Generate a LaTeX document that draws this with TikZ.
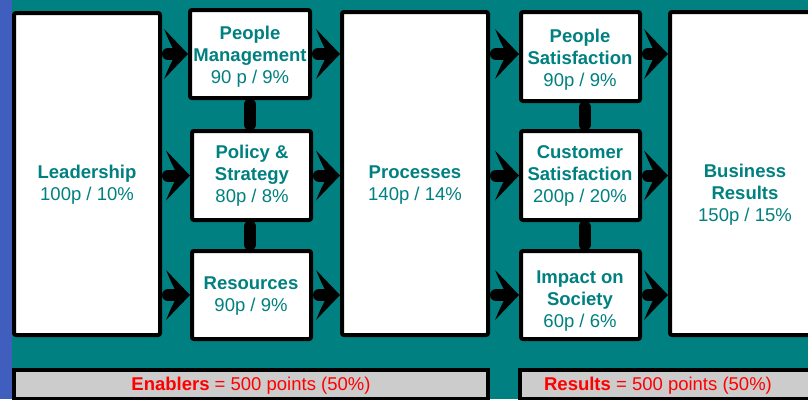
\documentclass[tikz,border=0pt]{standalone}
\usepackage{fontspec}
\setmainfont{Liberation Sans}
\usetikzlibrary{calc}
\definecolor{bgteal}{RGB}{0,128,128}
\definecolor{sideblue}{RGB}{63,94,189}
\definecolor{labelteal}{RGB}{0,128,128}
\definecolor{bargrey}{RGB}{204,204,204}

\begin{document}
\begin{tikzpicture}[x=1pt,y=-1pt,
  box/.style={draw=black, fill=white, line width=4pt, rounded corners=2pt, inner sep=0pt},
  bar/.style={draw=black, fill=bargrey, line width=4pt, inner sep=0pt},
  title/.style={font=\fontsize{18.5}{22}\selectfont, text=labelteal, align=center, inner sep=0pt},
  total/.style={font=\fontsize{18.5}{22}\selectfont, text=red, inner sep=0pt},
  % thick shaft; the chevron head is added as a pic at the end point
  flow/.style={line width=12pt, line cap=round, shorten <=6pt, shorten >=14pt},
  chevron/.pic={\fill[black] (0,0) -- (-24,-25) .. controls (-18,-11) .. (-12,0)
      .. controls (-18,11) .. (-24,25) -- cycle;},
  link/.style={line width=12pt, line cap=round, shorten <=4.5pt, shorten >=4.5pt}]

\useasboundingbox (0,0) rectangle (808,399);
\clip (0,0) rectangle (808,399);

% backdrop
\fill[bgteal] (0,0) rectangle (808,399);
\fill[sideblue] (0,0) rectangle (11.5,399);

% enablers
\node[box, minimum width=146pt, minimum height=322pt] (lead) at (87,174) {};
\node[box, minimum width=120pt, minimum height=88pt] (pm) at (250,54) {};
\node[box, minimum width=119pt, minimum height=89pt] (pol) at (251.5,175.5) {};
\node[box, minimum width=119pt, minimum height=88pt] (res) at (251.5,295) {};
\node[box, minimum width=146pt, minimum height=323pt] (proc) at (415,173.5) {};

% results
\node[box, minimum width=119pt, minimum height=89pt] (ps) at (580.5,56.5) {};
\node[box, minimum width=119pt, minimum height=89pt] (cs) at (580.5,175.5) {};
\node[box, minimum width=119pt, minimum height=88pt] (imp) at (580.5,295) {};
\node[box, minimum width=150pt, minimum height=323pt] (biz) at (745,173.5) {};

% summary bars
\node[bar, minimum width=474pt, minimum height=29pt] (en) at (251,384.5) {};
\node[bar, minimum width=310pt, minimum height=29pt] (re) at (675,384.5) {};

% labels
\node[title] (lead-t) at (87,184.5) {\textbf{Leadership}\\100p / 10\%};
\node[title] (pm-t) at (250,56.5) {\textbf{People}\\\textbf{Management}\\90 p / 9\%};
\node[title] (pol-t) at (252,175.5) {\textbf{Policy \&}\\\textbf{Strategy}\\80p / 8\%};
\node[title] (res-t) at (251,296) {\textbf{Resources}\\90p / 9\%};
\node[title] (proc-t) at (415,185) {\textbf{Processes}\\140p / 14\%};
\node[title] (ps-t) at (580,59.5) {\textbf{People}\\\textbf{Satisfaction}\\90p / 9\%};
\node[title] (cs-t) at (580,175.5) {\textbf{Customer}\\\textbf{Satisfaction}\\200p / 20\%};
\node[title] (imp-t) at (580,301) {\textbf{Impact on}\\\textbf{Society}\\60p / 6\%};
\node[title] (biz-t) at (745,194.5) {\textbf{Business}\\\textbf{Results}\\150p / 15\%};
\node[total] (en-t) at (251,385.5) {\textbf{Enablers} = 500 points (50\%)};
\node[total] (re-t) at (658,385.5) {\textbf{Results} = 500 points (50\%)};

% flows, top row
\draw[flow] (lead.east |- pm.west) -- (pm.west) pic {chevron};
\draw[flow] (pm.east) -- (proc.west |- pm.east) pic {chevron};
\draw[flow] (proc.east |- pm.east) -- (ps.west |- pm.east) pic {chevron};
\draw[flow] (ps.east |- pm.east) -- (biz.west |- pm.east) pic {chevron};
% flows, middle row
\draw[flow] (lead.east |- pol.west) -- (pol.west) pic {chevron};
\draw[flow] (pol.east) -- (proc.west |- pol.east) pic {chevron};
\draw[flow] (proc.east |- cs.west) -- (cs.west) pic {chevron};
\draw[flow] (cs.east) -- (biz.west |- cs.east) pic {chevron};
% flows, bottom row
\draw[flow] (lead.east |- res.west) -- (res.west) pic {chevron};
\draw[flow] (res.east) -- (proc.west |- res.east) pic {chevron};
\draw[flow] (proc.east |- imp.west) -- (imp.west) pic {chevron};
\draw[flow] (imp.east) -- (biz.west |- imp.east) pic {chevron};

% links within the columns
\draw[link] (pm.south) -- (pm.south |- pol.north);
\draw[link] (pm.south |- pol.south) -- (pm.south |- res.north);
\draw[link] ([xshift=4pt]ps.south) -- ([xshift=4pt]ps.south |- cs.north);
\draw[link] ([xshift=4pt]cs.south) -- ([xshift=4pt]cs.south |- imp.north);
\end{tikzpicture}
\end{document}
